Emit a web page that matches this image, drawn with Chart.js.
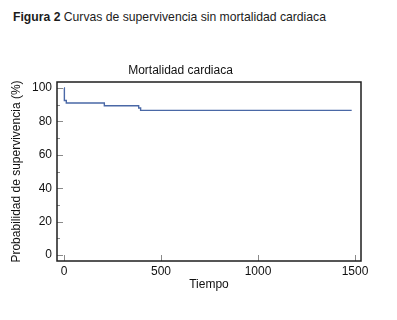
<!DOCTYPE html>
<html>
<head>
<meta charset="utf-8">
<script src="https://cdn.jsdelivr.net/npm/chart.js@4"></script>
<style>
  html, body { margin: 0; padding: 0; background: #fff; }
  #wrap { position: relative; width: 397px; height: 320px; overflow: hidden; }
  #caption { position: absolute; left: 13px; top: 10px; font-family: "Liberation Sans", Arial, sans-serif; font-size: 12.2px; color: #1c1c1c; white-space: nowrap; }
  #caption b { font-weight: bold; }
  #box { position: absolute; left: 0; top: 0; width: 397px; height: 320px; }
</style>
</head>
<body>
<div id="wrap">
  <div id="caption"><b>Figura 2</b> Curvas de supervivencia sin mortalidad cardiaca</div>
  <div id="box"><canvas id="c" width="397" height="320"></canvas></div>
</div>
<script>
// Data
const times = [0, 2, 12, 208, 385, 395, 1483];
const survival = [100, 92.5, 91, 89.4, 88, 86.6, 86.6];
const xTicks = [0, 500, 1000, 1500];
const yTicks = [0, 20, 40, 60, 80, 100];
const yMinorTicks = [10, 30, 50, 70, 90];

const FONT = "'Liberation Sans', Arial, sans-serif";

const framePlugin = {
  id: 'frame',
  afterDraw(chart) {
    const {ctx, chartArea: a, scales: {x, y}} = chart;
    ctx.save();
    ctx.strokeStyle = '#8a8a8a';
    ctx.lineWidth = 1;
    ctx.beginPath();
    yTicks.forEach(v => { const p = Math.round(y.getPixelForValue(v)) + 0.5; ctx.moveTo(a.left, p); ctx.lineTo(a.left + 6, p); });
    yMinorTicks.forEach(v => { const p = Math.round(y.getPixelForValue(v)) + 0.5; ctx.moveTo(a.left, p); ctx.lineTo(a.left + 3, p); });
    xTicks.forEach(v => { const p = Math.round(x.getPixelForValue(v)) + 0.5; ctx.moveTo(p, a.bottom); ctx.lineTo(p, a.bottom - 6); });
    ctx.stroke();
    ctx.strokeStyle = '#1e1e1e';
    ctx.lineWidth = 1.5;
    ctx.strokeRect(a.left, a.top, a.right - a.left, a.bottom - a.top);
    ctx.restore();
  }
};

new Chart(document.getElementById('c'), {
  type: 'line',
  data: {
    datasets: [{
      data: times.map((t, i) => ({x: t, y: survival[i]})),
      borderColor: '#4a68a6',
      borderWidth: 1.4,
      pointRadius: 0,
      stepped: 'before',
      fill: false
    }]
  },
  options: {
    responsive: false,
    animation: false,
    layout: { padding: { left: 0, right: 36, top: 0, bottom: 0 } },
    plugins: {
      legend: { display: false },
      tooltip: { enabled: false },
      title: {
        display: true,
        text: 'Mortalidad cardiaca',
        color: '#111',
        font: { family: FONT, size: 12, weight: 'normal', lineHeight: 1.2 },
        padding: { top: 63, bottom: 4.6 }
      }
    },
    scales: {
      x: {
        type: 'linear',
        min: -36,
        max: 1531,
        afterBuildTicks(s) { s.ticks = xTicks.map(v => ({value: v})); },
        afterFit(s) { s.height = 59; },
        grid: { display: false, drawTicks: false },
        border: { display: false },
        ticks: { color: '#111', font: { family: FONT, size: 12 }, padding: 3, maxRotation: 0, callback: v => String(v) },
        title: { display: true, text: 'Tiempo', color: '#111', font: { family: FONT, size: 12, lineHeight: 1.2 }, padding: { top: 0, bottom: 27.8 } }
      },
      y: {
        type: 'linear',
        min: -3.6,
        max: 103.6,
        afterBuildTicks(s) { s.ticks = yTicks.map(v => ({value: v})); },
        afterFit(s) { s.width = 57; },
        grid: { display: false, drawTicks: false },
        border: { display: false },
        ticks: { color: '#111', font: { family: FONT, size: 12 }, padding: 5, callback: v => String(v) },
        title: { display: true, text: 'Probabilidad de supervivencia (%)', color: '#111', font: { family: FONT, size: 12, lineHeight: 1.2 }, padding: { top: 9.8, bottom: 0 } }
      }
    }
  },
  plugins: [framePlugin]
});
</script>
</body>
</html>
